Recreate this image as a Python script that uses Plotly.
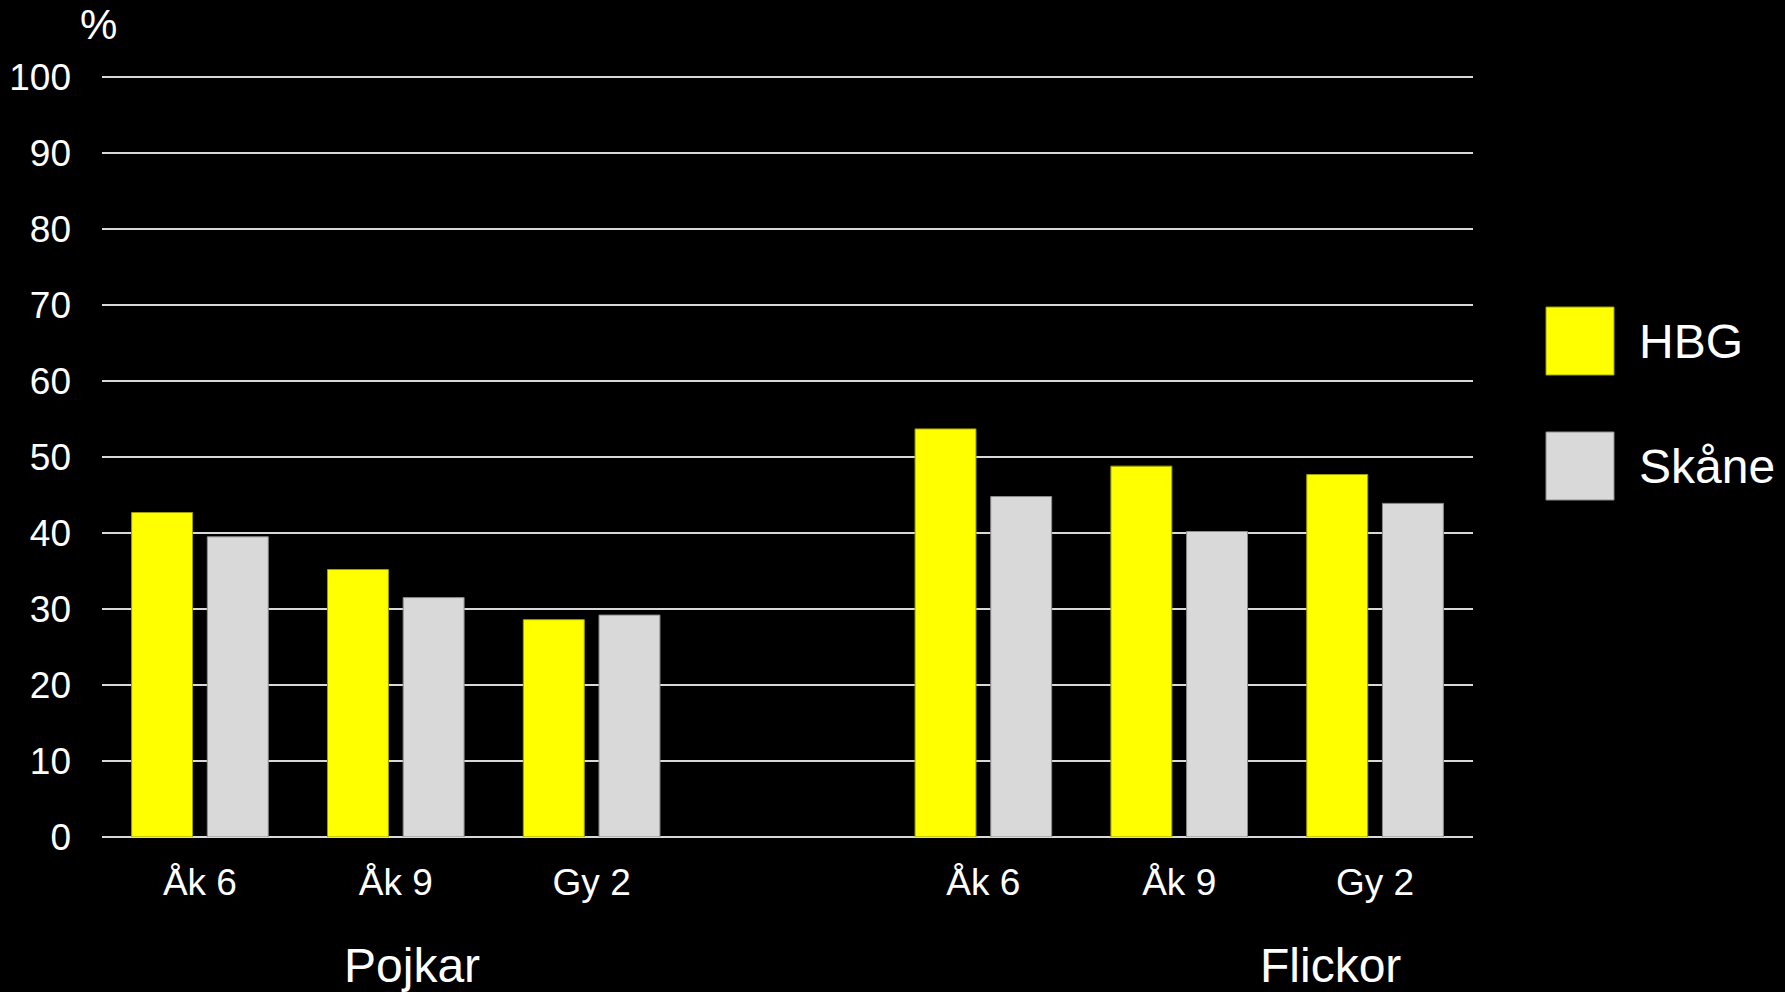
import plotly.graph_objects as go

# data
groups = ['Pojkar', 'Flickor']
grades = ['Åk 6', 'Åk 9', 'Gy 2']
hbg_pojkar = [42.7, 35.2, 28.6]
hbg_flickor = [53.7, 48.8, 47.7]
skane_pojkar = [39.5, 31.5, 29.2]
skane_flickor = [44.8, 40.2, 43.9]
y_ticks = list(range(0, 101, 10))

# positions: 3 grades, one empty slot, 3 grades
x_pos = [0, 1, 2, 4, 5, 6]
tick_text = grades + grades

hbg = hbg_pojkar + hbg_flickor
skane = skane_pojkar + skane_flickor

W, H = 1785, 992
L, R, T, B = 102, 312, 74, 155
pw, ph = W - L - R, H - T - B


def px(x, y):
    # page pixels -> paper coords (paper = plot area)
    return (x - L) / pw, (H - B - y) / ph


fig = go.Figure()
fig.add_trace(go.Bar(x=x_pos, y=hbg, name='HBG',
                     marker=dict(color='#ffff00', line=dict(color='#9e9e00', width=1))))
fig.add_trace(go.Bar(x=x_pos, y=skane, name='Skåne',
                     marker=dict(color='#d9d9d9', line=dict(color='#8c8c8c', width=1))))

font = 'Liberation Sans, Arial, sans-serif'

fig.update_layout(
    width=W, height=H,
    paper_bgcolor='black', plot_bgcolor='black',
    margin=dict(l=L, r=R, t=T, b=B),
    barmode='group', bargap=0.227, bargroupgap=0.195,
    showlegend=False,
    font=dict(family=font, color='white', size=37),
)
fig.update_xaxes(range=[-0.5, 6.5], tickvals=x_pos, ticktext=tick_text,
                 showgrid=False, zeroline=False, showline=False, automargin=False,
                 ticks='', ticklabelstandoff=20,
                 tickfont=dict(size=37, color='white'))
fig.update_yaxes(range=[0, 100.4], tickvals=y_ticks,
                 showgrid=True, gridcolor='#d9d9d9', gridwidth=2,
                 zeroline=True, zerolinecolor='#d9d9d9', zerolinewidth=2,
                 showline=False, automargin=False, ticks='', ticklabelstandoff=30,
                 tickfont=dict(size=37, color='white'))

# group labels under the axis
for name, cx in zip(groups, [412, 1330]):
    ax, ay = px(cx, 965)
    fig.add_annotation(text=name, x=ax, y=ay, xref='paper', yref='paper',
                       showarrow=False, xanchor='center', yanchor='middle',
                       font=dict(size=48))

ax, ay = px(98.5, 25)
fig.add_annotation(text='%', x=ax, y=ay, xref='paper', yref='paper',
                   showarrow=False, font=dict(size=42), xanchor='center', yanchor='middle')

# legend drawn by hand (big square keys)
legend_items = [('HBG', '#ffff00', '#9e9e00', 341), ('Skåne', '#d9d9d9', '#8c8c8c', 466)]
for name, col, edge, cy in legend_items:
    x0, y0 = px(1546, cy + 34)
    x1, y1 = px(1614, cy - 34)
    fig.add_shape(type='rect', xref='paper', yref='paper',
                  x0=x0, x1=x1, y0=y0, y1=y1,
                  fillcolor=col, line=dict(color=edge, width=1))
    ax, ay = px(1637, cy)
    fig.add_annotation(text=name, x=ax, y=ay, xref='paper', yref='paper',
                       showarrow=False, xanchor='left', yanchor='middle', font=dict(size=48))

fig.write_html("out.html", config={'displayModeBar': False},
               post_script="document.body.style.margin='0';")
